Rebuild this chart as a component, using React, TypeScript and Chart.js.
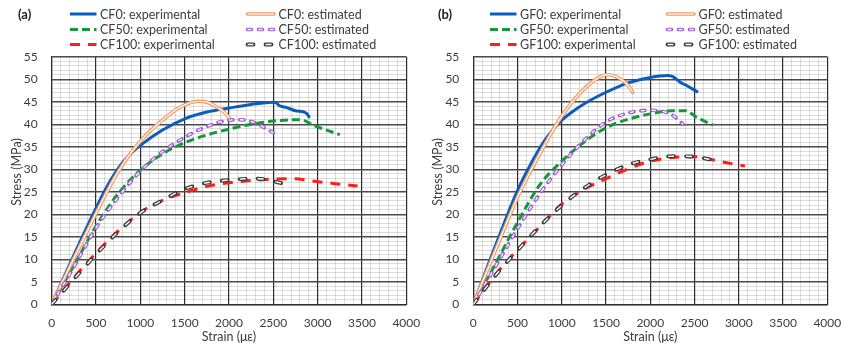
import { useEffect, useRef } from 'react';
import { Chart, registerables } from 'chart.js';

Chart.register(...registerables);

// ---- Panel (a): carbon-fibre mixes, strain in microstrain, stress in MPa ----
const cf0ExpStrain = [0, 250, 500, 600, 700, 800, 900, 1000, 1250, 1500, 1750, 2000, 2250, 2500, 2530, 2570, 2650, 2750, 2850, 2880, 2910];
const cf0ExpStress = [0, 10.9, 21.4, 25.3, 28.7, 31.5, 33.6, 35.3, 38.7, 41.2, 42.7, 43.6, 44.4, 44.9, 44.8, 44.1, 43.7, 43.0, 42.7, 42.3, 41.4];
const cf0EstStrain = [0, 250, 500, 600, 700, 800, 900, 1000, 1100, 1250, 1400, 1500, 1650, 1750, 1850, 1950, 2010];
const cf0EstStress = [0, 10.2, 20.2, 24.1, 27.8, 31.0, 33.8, 36.2, 38.3, 40.9, 43.2, 44.3, 45.1, 44.9, 44.0, 42.6, 41.2];
const cf50ExpStrain = [0, 250, 500, 750, 1000, 1250, 1500, 1750, 2000, 2250, 2500, 2750, 2850, 2950, 3100, 3250];
const cf50ExpStress = [0, 8.6, 17.4, 24.6, 29.8, 33.4, 35.9, 37.6, 38.9, 40.0, 40.7, 41.0, 40.8, 39.8, 38.7, 37.7];
const cf50EstStrain = [0, 250, 500, 750, 1000, 1250, 1500, 1750, 2000, 2125, 2250, 2375, 2500];
const cf50EstStress = [0, 8.3, 17.0, 23.8, 29.6, 33.9, 37.1, 39.5, 40.9, 41.0, 40.6, 39.5, 38.1];
const cf100ExpStrain = [0, 250, 500, 750, 1000, 1250, 1500, 1750, 2000, 2250, 2500, 2750, 2900, 3200, 3450];
const cf100ExpStress = [0, 5.9, 11.4, 16.3, 20.4, 23.1, 24.8, 26.2, 27.0, 27.5, 27.8, 27.9, 27.5, 26.8, 26.3];
const cf100EstStrain = [0, 250, 500, 750, 1000, 1250, 1500, 1750, 2000, 2250, 2400, 2550, 2720];
const cf100EstStress = [0, 5.6, 11.1, 16.1, 20.3, 23.1, 25.6, 27.0, 27.6, 27.9, 27.8, 27.1, 26.3];

// ---- Panel (b): glass-fibre mixes ----
const gf0ExpStrain = [0, 250, 500, 650, 800, 900, 1000, 1100, 1250, 1500, 1750, 2000, 2200, 2260, 2340, 2420, 2540];
const gf0ExpStress = [0, 13.0, 25.3, 31.2, 36.2, 38.8, 40.9, 42.5, 44.5, 47.1, 49.2, 50.4, 50.8, 50.5, 49.3, 48.5, 47.1];
const gf0EstStrain = [0, 250, 500, 600, 700, 800, 900, 1000, 1100, 1250, 1430, 1525, 1650, 1750, 1800];
const gf0EstStress = [0, 12.0, 23.8, 27.8, 31.6, 35.2, 38.7, 41.8, 44.5, 47.8, 50.5, 51.0, 50.2, 48.6, 47.1];
const gf50ExpStrain = [0, 250, 500, 750, 1000, 1250, 1500, 1750, 2000, 2250, 2400, 2520, 2600, 2710];
const gf50ExpStress = [0, 9.0, 18.2, 26.5, 31.8, 36.0, 39.2, 41.1, 42.3, 43.0, 43.0, 41.6, 40.8, 39.8];
const gf50EstStrain = [0, 250, 500, 750, 1000, 1250, 1500, 1750, 2000, 2150, 2260, 2370];
const gf50EstStress = [0, 8.4, 16.8, 24.5, 31.0, 36.4, 40.5, 42.5, 43.1, 42.8, 41.9, 40.0];
const gf100ExpStrain = [0, 250, 500, 750, 1000, 1250, 1500, 1750, 2000, 2250, 2500, 2700, 2900, 3070];
const gf100ExpStress = [0, 6.6, 12.1, 17.2, 22.3, 25.5, 27.9, 30.1, 31.8, 32.6, 32.8, 32.1, 31.3, 30.7];
const gf100EstStrain = [0, 250, 500, 750, 1000, 1250, 1500, 1750, 2000, 2250, 2500, 2670];
const gf100EstStress = [0, 6.4, 12.0, 17.3, 22.0, 25.8, 28.8, 31.0, 32.2, 32.9, 32.8, 32.2];

const cfNames = ['CF0: experimental', 'CF0: estimated', 'CF50: experimental', 'CF50: estimated', 'CF100: experimental', 'CF100: estimated'];
const gfNames = ['GF0: experimental', 'GF0: estimated', 'GF50: experimental', 'GF50: estimated', 'GF100: experimental', 'GF100: estimated'];

const strainTicks = { min: 0, max: 4000, major: 500, minor: 100 };
const stressTicks = { min: 0, max: 55, major: 5, minor: 1 };

const FONT = "Lato, 'Liberation Sans', sans-serif";
const TEXT = '#3c3c3c';
const CANVAS_H = 344;
const PLOT_TOP = 56.7;
const PLOT_BOTTOM = 304.3;

type LineStyle = { color: string; width: number; dash: number[]; inner?: number };

// experimental: plain strokes; estimated: hollow strokes (white core)
const lineStyles: LineStyle[] = [
  { color: '#0b5cc0', width: 3, dash: [] },
  { color: '#f39a5e', width: 3.6, dash: [], inner: 1.2 },
  { color: '#14983c', width: 3, dash: [8, 4] },
  { color: '#9d5ad2', width: 3.6, dash: [4, 7], inner: 1.4 },
  { color: '#ff1c1c', width: 3, dash: [10, 8] },
  { color: '#3a3a3a', width: 3.8, dash: [6, 12], inner: 1.4 },
];
// draw order, first drawn first (estimated curves over the experimental ones)
const drawSequence = [0, 2, 4, 1, 3, 5];

type Curve = { strain: number[]; stress: number[] };

function buildDatasets(curves: Curve[]) {
  const sets: any[] = [];
  let n = 0;
  drawSequence.forEach((i) => {
    const c = curves[i];
    const st = lineStyles[i];
    const pts = c.strain.map((x, k) => ({ x, y: c.stress[k] }));
    const common = {
      data: pts,
      pointRadius: 0,
      pointHoverRadius: 0,
      fill: false,
      cubicInterpolationMode: 'monotone',
      borderJoinStyle: 'round',
    };
    sets.push({
      ...common,
      borderColor: st.color,
      borderWidth: st.width,
      borderDash: st.dash,
      borderCapStyle: st.inner ? 'round' : 'butt',
      order: 100 - n++,
    });
    if (st.inner) {
      sets.push({
        ...common,
        borderColor: '#ffffff',
        borderWidth: st.inner,
        borderDash: st.dash,
        borderCapStyle: 'butt',
        order: 100 - n++,
      });
    }
  });
  return sets;
}

function strokeSample(ctx: CanvasRenderingContext2D, st: LineStyle, x0: number, x1: number, y: number) {
  ctx.save();
  ctx.setLineDash(st.dash);
  ctx.lineCap = st.inner ? 'round' : 'butt';
  ctx.strokeStyle = st.color;
  ctx.lineWidth = st.width;
  ctx.beginPath();
  ctx.moveTo(x0, y);
  ctx.lineTo(x1, y);
  ctx.stroke();
  if (st.inner) {
    ctx.lineCap = 'butt';
    ctx.strokeStyle = '#ffffff';
    ctx.lineWidth = st.inner;
    ctx.beginPath();
    ctx.moveTo(x0, y);
    ctx.lineTo(x1, y);
    ctx.stroke();
  }
  ctx.restore();
}

function isMultiple(v: number, step: number) {
  const r = Math.abs(v / step - Math.round(v / step));
  return r < 1e-6;
}

type PanelProps = {
  tag: string;
  names: string[];
  curves: Curve[];
  width: number;
  plotLeft: number;
  plotRight: number;
  titleX: number;
};

function Panel({ tag, names, curves, width, plotLeft, plotRight, titleX }: PanelProps) {
  const ref = useRef<HTMLCanvasElement | null>(null);

  useEffect(() => {
    if (!ref.current) return;

    const decor = {
      id: 'panelDecor',
      afterDraw(chart: any) {
        const ctx: CanvasRenderingContext2D = chart.ctx;
        ctx.save();
        // panel tag
        ctx.fillStyle = '#222222';
        ctx.font = `bold 13px ${FONT}`;
        ctx.textAlign = 'left';
        ctx.textBaseline = 'middle';
        ctx.fillText(tag, 18, 14.5);
        // legend, two columns by three rows
        const rows = [14, 29.5, 44.5];
        const cols = [
          { s0: 70, s1: 96.5, t: 100 },
          { s0: 247.5, s1: 274, t: 278.5 },
        ];
        names.forEach((name, i) => {
          const col = cols[i % 2];
          const y = rows[Math.floor(i / 2)];
          strokeSample(ctx, lineStyles[i], col.s0, col.s1, y);
          ctx.fillStyle = TEXT;
          ctx.font = `12.5px ${FONT}`;
          ctx.textAlign = 'left';
          ctx.textBaseline = 'middle';
          ctx.fillText(name, col.t, y + 0.5);
        });
        // stress axis title
        ctx.translate(titleX, 172);
        ctx.rotate(-Math.PI / 2);
        ctx.fillStyle = TEXT;
        ctx.font = `12.5px ${FONT}`;
        ctx.textAlign = 'center';
        ctx.textBaseline = 'middle';
        ctx.fillText('Stress (MPa)', 0, 0);
        ctx.restore();
      },
    };

    const tickFont = { family: FONT, size: 12 };

    const chart = new Chart(ref.current, {
      type: 'line',
      data: { datasets: buildDatasets(curves) },
      options: {
        responsive: false,
        animation: false,
        devicePixelRatio: 1,
        layout: { padding: { top: PLOT_TOP, right: width - plotRight, bottom: 0, left: 0 } },
        plugins: { legend: { display: false }, tooltip: { enabled: false } },
        scales: {
          x: {
            type: 'linear',
            min: strainTicks.min,
            max: strainTicks.max,
            ticks: {
              stepSize: strainTicks.minor,
              autoSkip: false,
              maxRotation: 0,
              padding: 12,
              color: TEXT,
              font: tickFont,
              callback: (v: any) => (isMultiple(Number(v), strainTicks.major) ? String(v) : ''),
            },
            grid: {
              drawTicks: false,
              color: (c: any) => (isMultiple(c.tick.value, strainTicks.major) ? '#2e2e2e' : 'rgba(0,0,0,0.13)'),
              lineWidth: (c: any) => (isMultiple(c.tick.value, strainTicks.major) ? 1.2 : 1),
            },
            border: { color: '#2e2e2e', width: 1.2 },
            title: { display: true, text: 'Strain (με)', color: TEXT, font: { family: FONT, size: 12.5 }, padding: { top: 0, bottom: 0 } },
            afterFit: (s: any) => {
              s.height = CANVAS_H - PLOT_BOTTOM;
              s.paddingLeft = 0;
              s.paddingRight = 0;
            },
          },
          y: {
            type: 'linear',
            min: stressTicks.min,
            max: stressTicks.max,
            ticks: {
              stepSize: stressTicks.minor,
              autoSkip: false,
              padding: 14,
              color: TEXT,
              font: tickFont,
              callback: (v: any) => (isMultiple(Number(v), stressTicks.major) ? String(v) : ''),
            },
            grid: {
              drawTicks: false,
              color: (c: any) => (isMultiple(c.tick.value, stressTicks.major) ? '#4a4a4a' : 'rgba(0,0,0,0.13)'),
              lineWidth: (c: any) => (isMultiple(c.tick.value, stressTicks.major) ? 1.4 : 1),
            },
            border: { color: '#2e2e2e', width: 1.2 },
            afterFit: (s: any) => {
              s.width = plotLeft;
              s.paddingTop = 0;
              s.paddingBottom = 0;
            },
          },
        },
      } as any,
      plugins: [decor],
    });

    return () => chart.destroy();
  }, []);

  return <canvas ref={ref} width={width} height={CANVAS_H} style={{ display: 'block', width, height: CANVAS_H }} />;
}

const cfCurves: Curve[] = [
  { strain: cf0ExpStrain, stress: cf0ExpStress },
  { strain: cf0EstStrain, stress: cf0EstStress },
  { strain: cf50ExpStrain, stress: cf50ExpStress },
  { strain: cf50EstStrain, stress: cf50EstStress },
  { strain: cf100ExpStrain, stress: cf100ExpStress },
  { strain: cf100EstStrain, stress: cf100EstStress },
];

const gfCurves: Curve[] = [
  { strain: gf0ExpStrain, stress: gf0ExpStress },
  { strain: gf0EstStrain, stress: gf0EstStress },
  { strain: gf50ExpStrain, stress: gf50ExpStress },
  { strain: gf50EstStrain, stress: gf50EstStress },
  { strain: gf100ExpStrain, stress: gf100ExpStress },
  { strain: gf100EstStrain, stress: gf100EstStress },
];

export default function App() {
  return (
    <div
      style={{
        position: 'fixed',
        left: 0,
        top: 0,
        width: 841,
        height: CANVAS_H,
        display: 'flex',
        background: '#ffffff',
      }}
    >
      <Panel tag="(a)" names={cfNames} curves={cfCurves} width={420} plotLeft={51.7} plotRight={406.3} titleX={17} />
      <Panel tag="(b)" names={gfNames} curves={gfCurves} width={421} plotLeft={53.3} plotRight={407.3} titleX={18} />
    </div>
  );
}
